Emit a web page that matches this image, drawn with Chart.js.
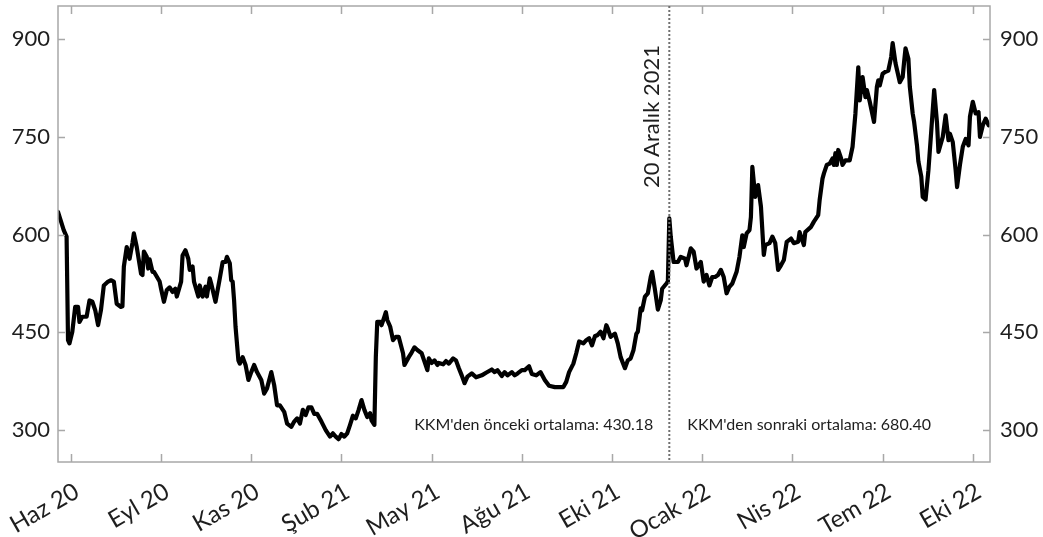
<!DOCTYPE html>
<html lang="tr">
<head>
<meta charset="utf-8">
<title>KKM öncesi ve sonrası</title>
<script src="https://cdn.jsdelivr.net/npm/chart.js@4.4.1/dist/chart.umd.min.js"></script>
<style>
  html, body { margin: 0; padding: 0; background: #ffffff; }
  #wrap { position: relative; width: 1043px; height: 537px; }
</style>
</head>
<body>
<div id="wrap"><canvas id="chart"></canvas></div>
<script>
// Trading-session index of each observation
const sessions = [
  0, 4, 6, 7, 8, 10, 12, 14, 15, 17, 20, 22, 24, 26, 28, 30, 32, 35, 37, 39,
  41, 44, 45, 46, 48, 50, 52, 53, 55, 58, 59, 60, 62, 63, 64, 66, 67, 71, 72, 74,
  76, 78, 80, 82, 83, 86, 87, 89, 91, 92, 94, 95, 98, 99, 101, 103, 104, 106, 107, 110,
  113, 115, 117, 118, 120, 121, 122, 123, 124, 126, 127, 129, 131, 133, 135, 137, 139, 142, 144, 146,
  149, 151, 153, 155, 158, 160, 163, 165, 167, 169, 171, 173, 175, 177, 179, 181, 184, 187, 190, 192,
  194, 196, 198, 200, 202, 204, 206, 208, 210, 212, 214, 216, 218, 219, 221, 222, 223, 225, 226, 228,
  229, 230, 232, 234, 236, 238, 241, 242, 245, 247, 249, 251, 254, 256, 258, 259, 261, 263, 265, 266,
  269, 271, 273, 276, 278, 280, 282, 284, 286, 289, 292, 296, 299, 303, 305, 307, 310, 312, 314, 317,
  319, 321, 324, 326, 329, 331, 334, 337, 340, 343, 347, 350, 353, 355, 357, 360, 362, 364, 367, 369,
  371, 373, 375, 377, 379, 381, 383, 384, 386, 389, 391, 393, 396, 398, 400, 402, 404, 405, 407, 408,
  410, 412, 414, 415, 417, 419, 421, 422, 425, 426, 427, 428, 430, 433, 435, 438, 439, 442, 444, 446,
  449, 451, 453, 455, 457, 459, 461, 463, 465, 467, 469, 471, 474, 476, 478, 479, 481, 483, 484, 485,
  487, 489, 491, 493, 494, 497, 499, 501, 503, 505, 507, 509, 512, 514, 517, 518, 521, 522, 526, 528,
  531, 532, 534, 535, 537, 539, 541, 542, 543, 544, 545, 547, 548, 550, 553, 555, 557, 559, 560, 562,
  564, 565, 567, 570, 572, 573, 574, 576, 578, 580, 582, 583, 585, 588, 590, 591, 592, 594, 595, 597,
  598, 600, 601, 603, 604, 606, 608, 610, 612, 614, 615, 618, 620, 622, 623, 625, 627, 628, 630, 632,
  634, 636, 637, 639, 641, 643, 644, 646, 648, 650
];

// Closing level at each session
const values = [
  635, 607, 597, 438, 433, 451, 489, 489, 466, 474, 474, 499, 497, 484, 461, 484, 522, 528, 530, 528,
  494, 489, 490, 551, 581, 563, 587, 602, 581, 540, 538, 574, 566, 548, 562, 543, 543, 528, 517, 497,
  515, 519, 512, 517, 505, 528, 568, 576, 563, 546, 551, 528, 505, 522, 505, 520, 505, 533, 525, 497,
  533, 558, 558, 566, 556, 530, 528, 499, 459, 407, 402, 412, 400, 377, 389, 400, 389, 377, 356, 364,
  389, 369, 338, 338, 328, 310, 305, 313, 318, 310, 331, 323, 335, 335, 325, 325, 313, 300, 290, 295,
  290, 286, 294, 290, 295, 308, 322, 318, 331, 346, 331, 320, 326, 315, 308, 412, 466, 466, 461, 474,
  481, 469, 459, 438, 443, 443, 418, 400, 412, 419, 427, 423, 418, 405, 392, 410, 403, 407, 400, 403,
  401, 406, 402, 410, 407, 395, 384, 372, 382, 387, 381, 384, 388, 393, 389, 392, 383, 389, 384, 389,
  384, 387, 392, 392, 398, 386, 384, 389, 377, 368, 366, 366, 366, 374, 389, 402, 418, 436, 433, 438,
  441, 430, 444, 446, 451, 441, 461, 456, 443, 448, 433, 412, 395, 407, 410, 423, 448, 451, 487, 484,
  505, 510, 535, 543, 515, 485, 499, 517, 525, 528, 625, 597, 558, 558, 566, 563, 553, 579, 574, 548,
  558, 528, 538, 522, 535, 535, 538, 546, 535, 510, 520, 525, 543, 566, 599, 581, 602, 607, 627, 704,
  658, 676, 643, 569, 584, 587, 597, 587, 546, 553, 561, 589, 594, 587, 589, 604, 584, 604, 612, 620,
  630, 653, 686, 694, 707, 709, 717, 707, 725, 707, 730, 717, 707, 714, 714, 735, 786, 857, 806, 842,
  811, 822, 804, 773, 827, 837, 829, 847, 850, 852, 873, 894, 863, 834, 842, 865, 886, 870, 827, 786,
  773, 737, 712, 689, 658, 654, 699, 760, 822, 771, 727, 750, 783, 745, 755, 742, 699, 673, 707, 735,
  747, 737, 781, 804, 786, 788, 750, 768, 778, 768
];

// Bottom axis: tick sessions and their month labels
const xTickSessions = [9, 72, 135, 198, 261, 324, 387, 450, 513, 576, 639];
const xTickLabels = ['Haz 20', 'Eyl 20', 'Kas 20', 'Şub 21', 'May 21', 'Ağu 21', 'Eki 21', 'Ocak 22', 'Nis 22', 'Tem 22', 'Eki 22'];

// Value axis ticks
const yTicks = [300, 450, 600, 750, 900];

// KKM start (20 December 2021) and the averages before / after it
const kkmSession = 427;
const kkmLabel = '20 Aralık 2021';
const avgBefore = 430.18;
const avgAfter = 680.40;

const FONT = 'Lato, "DejaVu Sans", sans-serif';
const FRAME = '#a8a8a8';
const TEXT = '#1e1e1e';

const points = sessions.map((s, i) => ({ x: s, y: values[i] }));

// Frame, inward tick marks and the KKM annotations
const decorations = {
  id: 'decorations',
  afterDatasetsDraw(chart) {
    const { ctx, chartArea: a, scales } = chart;
    const xs = scales.x, yl = scales.y, yr = scales.y2;
    ctx.save();
    ctx.strokeStyle = FRAME;
    ctx.lineWidth = 1.5;
    ctx.strokeRect(a.left, a.top, a.right - a.left, a.bottom - a.top);
    ctx.beginPath();
    xTickSessions.forEach(s => {
      const px = Math.round(xs.getPixelForValue(s)) + 0.5;
      ctx.moveTo(px, a.bottom); ctx.lineTo(px, a.bottom - 8);
      ctx.moveTo(px, a.top); ctx.lineTo(px, a.top + 8);
    });
    yTicks.forEach(v => {
      const py = Math.round(yl.getPixelForValue(v)) + 0.5;
      ctx.moveTo(a.left, py); ctx.lineTo(a.left + 7, py);
      const pr = Math.round(yr.getPixelForValue(v)) + 0.5;
      ctx.moveTo(a.right, pr); ctx.lineTo(a.right - 7, pr);
    });
    ctx.stroke();

    // vertical dotted marker
    const kx = xs.getPixelForValue(kkmSession);
    ctx.strokeStyle = '#707070';
    ctx.lineWidth = 2;
    ctx.setLineDash([2, 2]);
    ctx.beginPath();
    ctx.moveTo(kx, a.top);
    ctx.lineTo(kx, a.bottom);
    ctx.stroke();
    ctx.setLineDash([]);

    ctx.fillStyle = TEXT;
    // rotated date label
    ctx.save();
    ctx.translate(kx - 17, a.top + 39);
    ctx.rotate(-Math.PI / 2);
    ctx.font = '22px ' + FONT;
    ctx.textAlign = 'right';
    ctx.textBaseline = 'middle';
    ctx.fillText(kkmLabel, 0, 0);
    ctx.restore();

    // averages
    ctx.font = '16px ' + FONT;
    ctx.textBaseline = 'middle';
    const ty = a.bottom - 37;
    ctx.textAlign = 'right';
    ctx.fillText("KKM'den önceki ortalama: " + avgBefore.toFixed(2), kx - 16, ty);
    ctx.textAlign = 'left';
    ctx.fillText("KKM'den sonraki ortalama: " + avgAfter.toFixed(2), kx + 18, ty);
    ctx.restore();
  }
};

const yCommon = {
  type: 'linear',
  min: 251,
  max: 951,
  grid: { display: false, drawTicks: false },
  border: { display: false },
  afterBuildTicks(scale) { scale.ticks = yTicks.map(v => ({ value: v })); },
  ticks: {
    color: TEXT,
    font: { family: FONT, size: 22 },
    padding: 8
  }
};

new Chart(document.getElementById('chart'), {
  type: 'line',
  data: {
    datasets: [{
      data: points,
      borderColor: '#000000',
      borderWidth: 4.2,
      pointRadius: 0,
      tension: 0,
      borderJoinStyle: 'round',
      borderCapStyle: 'round'
    }]
  },
  options: {
    responsive: true,
    maintainAspectRatio: false,
    animation: false,
    layout: { padding: { top: 6, left: 0, right: 0, bottom: 0 } },
    plugins: { legend: { display: false }, tooltip: { enabled: false } },
    scales: {
      x: {
        type: 'linear',
        min: 0,
        max: 651,
        grid: { display: false, drawTicks: false },
        border: { display: false },
        afterBuildTicks(scale) { scale.ticks = xTickSessions.map(v => ({ value: v })); },
        afterFit(scale) {
          scale.height = 75;
          scale.paddingLeft = 0;
          scale.paddingRight = 0;
        },
        ticks: {
          color: TEXT,
          font: { family: FONT, size: 24 },
          minRotation: 30,
          maxRotation: 30,
          padding: 15,
          labelOffset: 6,
          callback(value) {
            const i = xTickSessions.indexOf(value);
            return i >= 0 ? xTickLabels[i] : '';
          }
        }
      },
      y: Object.assign({}, yCommon, {
        position: 'left',
        afterFit(scale) {
          scale.width = 58;
          scale.paddingTop = 0;
          scale.paddingBottom = 0;
        }
      }),
      y2: Object.assign({}, yCommon, {
        position: 'right',
        afterFit(scale) {
          scale.width = 53;
          scale.paddingTop = 0;
          scale.paddingBottom = 0;
        },
        ticks: Object.assign({}, yCommon.ticks, { padding: 10 })
      })
    }
  },
  plugins: [decorations]
});
</script>
</body>
</html>
